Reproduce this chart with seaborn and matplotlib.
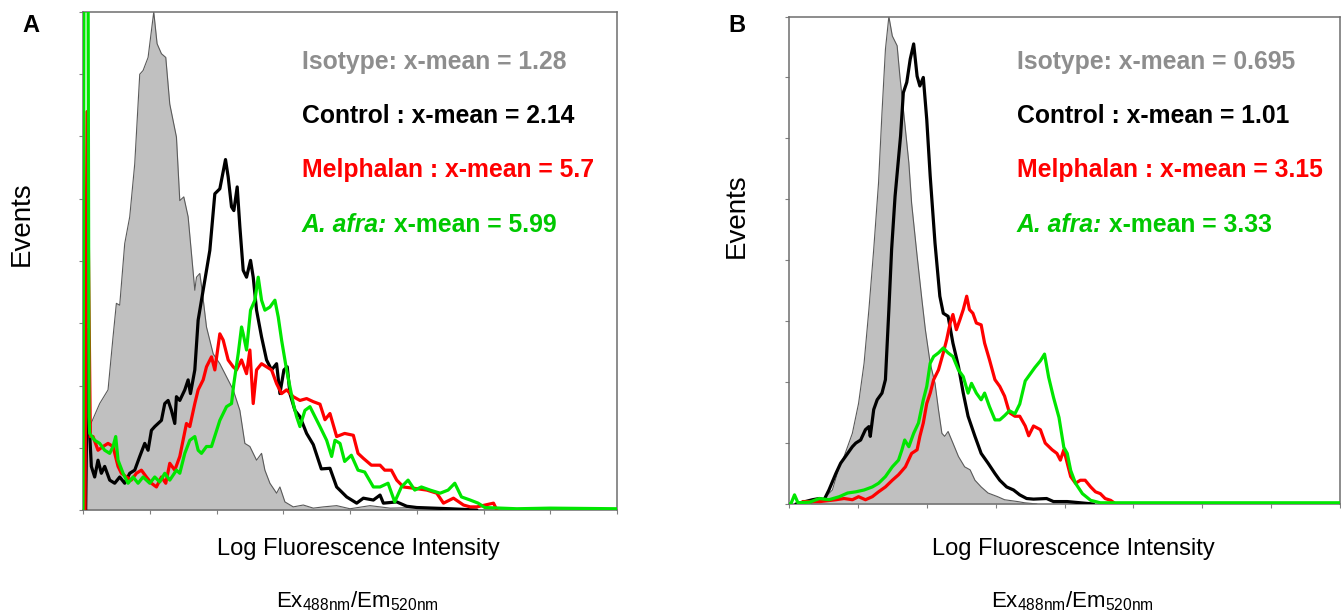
import numpy as np
import pandas as pd
import matplotlib
matplotlib.use("Agg")
import matplotlib.pyplot as plt
import seaborn as sns

# ---------------- DATA (x = log fluorescence, tick units 0..8; y = events, tick units 0..8) -------------
# Panel A
a_iso_x = [0.02, 0.05, 0.10, 0.25, 0.375, 0.45, 0.50, 0.55, 0.625, 0.70, 0.775, 0.85, 0.90, 0.975, 1.025,
           1.06, 1.11, 1.175, 1.24, 1.30, 1.40, 1.45, 1.51, 1.575, 1.675, 1.70, 1.75, 1.79, 1.85, 1.95,
           2.05, 2.15, 2.25, 2.35, 2.425, 2.50, 2.60, 2.675, 2.725, 2.80, 2.90, 2.95, 3.025, 3.15, 3.30,
           3.45, 3.60, 3.80, 4.00, 4.30, 4.60, 5.00, 5.40, 8.00]
a_iso_y = [0.0, 1.10, 1.34, 1.71, 1.93, 2.78, 3.32, 3.29, 4.28, 4.71, 5.56, 7.00, 7.06, 7.27, 7.70,
           8.00, 7.49, 7.33, 7.27, 6.52, 5.99, 4.97, 5.03, 4.71, 3.53, 3.74, 3.80, 3.48, 2.94, 2.51,
           2.35, 2.14, 1.93, 1.60, 1.07, 1.02, 0.80, 0.91, 0.64, 0.43, 0.27, 0.37, 0.13, 0.05, 0.08,
           0.03, 0.05, 0.07, 0.02, 0.07, 0.03, 0.04, 0.0, 0.0]

a_ctrl_x = [0.04, 0.07, 0.10, 0.125, 0.175, 0.225, 0.275, 0.325, 0.40, 0.475, 0.55, 0.625, 0.70, 0.775,
            0.85, 0.925, 0.975, 1.025, 1.075, 1.125, 1.175, 1.225, 1.275, 1.325, 1.375, 1.40, 1.45,
            1.525, 1.575, 1.61, 1.675, 1.725, 1.80, 1.90, 1.975, 2.05, 2.135, 2.175, 2.225, 2.26, 2.31,
            2.35, 2.40, 2.45, 2.51, 2.55, 2.60, 2.675, 2.75, 2.825, 2.90, 2.95, 3.01, 3.06, 3.10, 3.175,
            3.25, 3.35, 3.45, 3.57, 3.70, 3.80, 3.95, 4.10, 4.20, 4.35, 4.45, 4.50, 4.70, 4.85, 5.00,
            5.50, 5.90]
a_ctrl_y = [0.0, 2.90, 1.23, 0.70, 0.53, 0.80, 0.59, 0.70, 0.48, 0.43, 0.53, 0.43, 0.59, 0.64,
            0.86, 1.07, 0.96, 1.28, 1.34, 1.39, 1.44, 1.71, 1.76, 1.60, 1.39, 1.82, 1.76,
            1.93, 2.09, 1.87, 2.25, 3.05, 3.53, 4.17, 5.08, 5.16, 5.63, 5.35, 4.87, 4.81, 5.19,
            4.55, 3.85, 3.74, 4.01, 3.74, 3.21, 2.78, 2.41, 2.25, 2.35, 1.87, 2.25, 2.30, 1.87, 1.60,
            1.50, 1.23, 1.05, 0.66, 0.67, 0.37, 0.21, 0.11, 0.19, 0.16, 0.24, 0.11, 0.13, 0.06, 0.04,
            0.02, 0.0]

a_mel_x = [0.03, 0.06, 0.11, 0.15, 0.225, 0.30, 0.375, 0.45, 0.525, 0.575, 0.65, 0.725, 0.80, 0.875,
           0.95, 1.025, 1.10, 1.175, 1.24, 1.30, 1.375, 1.45, 1.55, 1.60, 1.675, 1.725, 1.80, 1.85,
           1.925, 1.975, 2.05, 2.10, 2.175, 2.25, 2.30, 2.375, 2.45, 2.50, 2.55, 2.60, 2.675, 2.75,
           2.825, 2.90, 2.975, 3.05, 3.15, 3.25, 3.35, 3.45, 3.55, 3.625, 3.70, 3.80, 3.92, 4.05,
           4.12, 4.20, 4.32, 4.45, 4.52, 4.62, 4.70, 4.80, 4.95, 5.15, 5.30, 5.40, 5.55, 5.70,
           5.80, 5.90, 6.15, 6.20]
a_mel_y = [0.0, 6.40, 1.18, 1.18, 0.96, 1.02, 1.07, 1.02, 0.70, 0.59, 0.53, 0.48, 0.59, 0.64,
           0.53, 0.43, 0.37, 0.53, 0.43, 0.75, 0.64, 0.86, 1.39, 1.34, 1.71, 1.93, 2.09, 2.30,
           2.46, 2.25, 2.83, 2.73, 2.41, 2.30, 2.25, 2.41, 2.19, 2.57, 1.71, 2.25, 2.35, 2.30,
           2.25, 2.03, 1.87, 1.93, 1.82, 1.76, 1.79, 1.74, 1.70, 1.45, 1.55, 1.18, 1.23, 1.20,
           0.91, 0.83, 0.72, 0.72, 0.64, 0.64, 0.48, 0.37, 0.35, 0.32, 0.27, 0.11, 0.19, 0.08,
           0.05, 0.05, 0.11, 0.0]

a_afra_x = [0.0, 0.015, 0.075, 0.09, 0.10, 0.175, 0.25, 0.325, 0.40, 0.45, 0.49, 0.525, 0.60, 0.675,
            0.75, 0.825, 0.90, 1.00, 1.075, 1.15, 1.225, 1.30, 1.40, 1.45, 1.525, 1.60, 1.675, 1.725,
            1.775, 1.85, 1.925, 2.05, 2.15, 2.225, 2.26, 2.325, 2.375, 2.40, 2.45, 2.51, 2.575, 2.625,
            2.675, 2.725, 2.80, 2.875, 2.925, 2.975, 3.05, 3.10, 3.15, 3.20, 3.25, 3.325, 3.40, 3.475,
            3.55, 3.65, 3.725, 3.775, 3.85, 3.92, 4.02, 4.12, 4.22, 4.35, 4.45, 4.57, 4.67, 4.77,
            4.87, 4.97, 5.07, 5.20, 5.35, 5.47, 5.57, 5.67, 5.80, 5.92, 6.02, 6.50, 7.00, 8.00]
a_afra_y = [0.0, 9.0, 9.0, 1.5, 1.23, 1.12, 1.07, 0.96, 0.91, 1.02, 1.18, 0.80, 0.59, 0.43,
            0.53, 0.43, 0.53, 0.43, 0.53, 0.45, 0.59, 0.48, 0.64, 0.59, 0.91, 1.12, 1.18, 0.96,
            0.91, 1.02, 1.02, 1.44, 1.66, 1.71, 2.03, 2.51, 2.94, 2.83, 2.57, 3.21, 3.37, 3.74,
            3.37, 3.21, 3.26, 3.37, 3.10, 2.73, 2.25, 1.98, 1.71, 1.50, 1.34, 1.60, 1.66, 1.50,
            1.34, 1.12, 0.86, 1.12, 1.07, 0.78, 0.88, 0.64, 0.61, 0.37, 0.37, 0.43, 0.13, 0.37,
            0.48, 0.32, 0.37, 0.32, 0.27, 0.32, 0.43, 0.21, 0.16, 0.11, 0.04, 0.02, 0.03, 0.02]

# Panel B
b_iso_x = [0.30, 0.49, 0.63, 0.73, 0.80, 0.92, 1.01, 1.09, 1.16, 1.23, 1.30, 1.35, 1.40, 1.45, 1.50,
           1.57, 1.61, 1.66, 1.74, 1.78, 1.86, 1.93, 1.98, 2.05, 2.12, 2.17, 2.22, 2.26, 2.31, 2.38,
           2.46, 2.55, 2.63, 2.70, 2.79, 2.89, 3.03, 3.13, 3.32, 3.42, 3.60]
b_iso_y = [0.0, 0.07, 0.23, 0.61, 0.78, 1.16, 1.65, 2.31, 3.19, 4.18, 5.27, 6.42, 7.46, 8.00, 7.68,
           7.52, 7.02, 6.48, 5.60, 4.94, 4.07, 3.35, 2.86, 2.31, 1.98, 1.55, 1.16, 1.11, 1.19, 1.00,
           0.78, 0.61, 0.56, 0.39, 0.28, 0.18, 0.12, 0.07, 0.04, 0.02, 0.0]

b_ctrl_x = [0.10, 0.34, 0.44, 0.51, 0.58, 0.68, 0.75, 0.82, 0.92, 0.97, 1.04, 1.11, 1.16, 1.18, 1.23,
            1.28, 1.35, 1.40, 1.45, 1.49, 1.54, 1.62, 1.66, 1.71, 1.76, 1.81, 1.86, 1.90, 1.95, 2.00,
            2.05, 2.12, 2.19, 2.24, 2.31, 2.38, 2.46, 2.53, 2.60, 2.70, 2.79, 2.89, 2.99, 3.06, 3.16,
            3.26, 3.35, 3.45, 3.55, 3.74, 3.84, 4.04, 4.42]
b_ctrl_y = [0.0, 0.07, 0.09, 0.07, 0.23, 0.50, 0.67, 0.78, 0.94, 1.00, 1.05, 1.22, 1.27, 1.11, 1.55,
            1.71, 1.82, 2.04, 3.19, 4.18, 5.05, 6.04, 6.75, 6.92, 7.30, 7.55, 7.02, 6.86, 7.00, 6.31,
            5.38, 4.28, 3.41, 3.13, 3.08, 2.64, 2.26, 1.82, 1.44, 1.11, 0.83, 0.67, 0.50, 0.39, 0.28,
            0.23, 0.15, 0.09, 0.08, 0.09, 0.04, 0.04, 0.0]

b_mel_x = [0.20, 0.45, 0.68, 0.80, 0.92, 1.01, 1.11, 1.21, 1.30, 1.40, 1.50, 1.59, 1.69, 1.78, 1.86,
           1.90, 1.95, 2.00, 2.05, 2.10, 2.17, 2.24, 2.29, 2.34, 2.38, 2.43, 2.48, 2.53, 2.58, 2.62,
           2.67, 2.72, 2.79, 2.84, 2.91, 2.99, 3.06, 3.13, 3.20, 3.28, 3.35, 3.43, 3.48, 3.55, 3.65,
           3.72, 3.82, 3.89, 3.94, 3.99, 4.04, 4.09, 4.16, 4.23, 4.30, 4.38, 4.45, 4.52, 4.59, 4.67,
           4.72]
b_mel_y = [0.04, 0.04, 0.07, 0.09, 0.07, 0.12, 0.07, 0.12, 0.20, 0.28, 0.39, 0.48, 0.61, 0.83, 0.89,
           1.11, 1.33, 1.65, 1.82, 2.04, 2.20, 2.48, 2.70, 2.97, 3.11, 2.86, 3.02, 3.19, 3.41, 3.19,
           3.13, 2.97, 2.94, 2.64, 2.37, 2.04, 1.93, 1.77, 1.50, 1.44, 1.44, 1.28, 1.12, 1.28, 1.22,
           1.00, 0.89, 0.83, 0.72, 0.89, 0.67, 0.45, 0.34, 0.39, 0.39, 0.28, 0.20, 0.17, 0.09, 0.06,
           0.02]

b_afra_x = [0.0, 0.03, 0.08, 0.13, 0.30, 0.44, 0.58, 0.73, 0.85, 0.97, 1.09, 1.21, 1.30, 1.40, 1.50,
            1.59, 1.64, 1.68, 1.74, 1.81, 1.88, 1.95, 2.00, 2.05, 2.10, 2.17, 2.24, 2.31, 2.38, 2.46,
            2.53, 2.60, 2.65, 2.72, 2.79, 2.84, 2.91, 2.99, 3.06, 3.13, 3.20, 3.28, 3.35, 3.43, 3.50,
            3.57, 3.65, 3.71, 3.77, 3.84, 3.92, 3.99, 4.04, 4.09, 4.16, 4.26, 4.38, 4.52, 8.00]
b_afra_y = [0.0, 0.01, 0.15, 0.02, 0.03, 0.09, 0.07, 0.12, 0.18, 0.20, 0.23, 0.28, 0.34, 0.45, 0.61,
            0.72, 0.89, 1.05, 0.94, 1.16, 1.33, 1.71, 1.93, 2.31, 2.42, 2.48, 2.56, 2.48, 2.42, 2.20,
            2.09, 1.82, 1.98, 1.82, 1.71, 1.82, 1.60, 1.38, 1.38, 1.45, 1.53, 1.48, 1.64, 2.02, 2.13,
            2.24, 2.35, 2.46, 2.08, 1.75, 1.42, 0.93, 0.83, 0.55, 0.34, 0.17, 0.06, 0.02, 0.02]

panel_letters = ["A", "B"]
series_names = ["Isotype", "Control", "Melphalan", "A. afra"]
xmeans_a = ["1.28", "2.14", "5.7", "5.99"]
xmeans_b = ["0.695", "1.01", "3.15", "3.33"]
axis_ticks = [0, 1, 2, 3, 4, 5, 6, 7, 8]

# ---------------- STYLE ----------------
sns.set_style("ticks")
plt.rcParams["font.family"] = ["Liberation Sans", "DejaVu Sans"]
plt.rcParams["text.color"] = "black"

W, H = 1341, 615
fig = plt.figure(figsize=(W / 100, H / 100), dpi=100)

def fx(px):
    return px / W

def fy(py):
    return 1 - py / H

axA = fig.add_axes([fx(83), fy(510), fx(617 - 83), (510 - 12) / H])
axB = fig.add_axes([fx(789), fy(504), fx(1340 - 789), (504 - 16.5) / H])

C_ISO_FILL = "#c0c0c0"
C_ISO_LINE = "#5a5a5a"
C_CTRL = "#000000"
C_MEL = "#ff0000"
C_AFRA = "#00e600"
C_ISO_TXT = "#8e8e8e"
C_AFRA_TXT = "#00c800"

def draw_panel(ax, iso, ctrl, mel, afra):
    ix, iy = iso
    ax.fill_between(ix, iy, 0, color=C_ISO_FILL, lw=0, zorder=1)
    sns.lineplot(x=ix, y=iy, ax=ax, color=C_ISO_LINE, lw=0.8, sort=False, estimator=None, zorder=2)
    for (sx, sy), c, z in [(ctrl, C_CTRL, 3), (mel, C_MEL, 4), (afra, C_AFRA, 5)]:
        sns.lineplot(x=sx, y=sy, ax=ax, color=c, lw=2.3, sort=False, estimator=None, zorder=z)
    ax.set_xlim(0, 8)
    ax.set_ylim(0, 8)
    ax.set_xticks(axis_ticks)
    ax.set_yticks(axis_ticks)
    ax.tick_params(length=3, width=0.8, color="#808080", labelbottom=False, labelleft=False,
                   direction="out")
    ax.set_xlabel("")
    ax.set_ylabel("")
    for s in ax.spines.values():
        s.set_visible(True)
        s.set_color("#6e6e6e")
        s.set_linewidth(1.1)

draw_panel(axA, (a_iso_x, a_iso_y), (a_ctrl_x, a_ctrl_y), (a_mel_x, a_mel_y), (a_afra_x, a_afra_y))
draw_panel(axB, (b_iso_x, b_iso_y), (b_ctrl_x, b_ctrl_y), (b_mel_x, b_mel_y), (b_afra_x, b_afra_y))

ANN = 17.8

def afra_suffix(t, means):
    fig.canvas.draw()
    bb = t.get_window_extent()
    x0 = bb.x1 / W
    fig.text(x0, t.get_position()[1], f" x-mean = {means[3]}", color=C_AFRA_TXT, fontsize=ANN,
             fontweight="bold", va="baseline")

def annotate(text_left, means):
    baselines = [69, 123, 177, 232]
    fig.text(fx(text_left), fy(baselines[0]), f"{series_names[0]}: x-mean = {means[0]}",
             color=C_ISO_TXT, fontsize=ANN, fontweight="bold", va="baseline")
    fig.text(fx(text_left), fy(baselines[1]), f"{series_names[1]} : x-mean = {means[1]}",
             color=C_CTRL, fontsize=ANN, fontweight="bold", va="baseline")
    fig.text(fx(text_left), fy(baselines[2]), f"{series_names[2]} : x-mean = {means[2]}",
             color=C_MEL, fontsize=ANN, fontweight="bold", va="baseline")
    t = fig.text(fx(text_left), fy(baselines[3]), f"{series_names[3]}:",
                 color=C_AFRA_TXT, fontsize=ANN, fontweight="bold", fontstyle="italic", va="baseline")
    afra_suffix(t, means)

annotate(302, xmeans_a)
annotate(1017, xmeans_b)

# panel letters
fig.text(fx(31), fy(26), panel_letters[0], fontsize=17, fontweight="bold", ha="center", va="center")
fig.text(fx(737), fy(26), panel_letters[1], fontsize=17, fontweight="bold", ha="center", va="center")

# y labels
fig.text(fx(22), fy(224), "Events", fontsize=20, rotation=90, ha="center", va="center")
fig.text(fx(737), fy(216), "Events", fontsize=20, rotation=90, ha="center", va="center")

# x labels
for cx in (358, 1073):
    fig.text(fx(cx), fy(555), "Log Fluorescence Intensity", fontsize=17, ha="center", va="baseline")
    fig.text(fx(cx - 1), fy(607), r"Ex$_{\mathregular{488nm}}$/Em$_{\mathregular{520nm}}$",
             fontsize=16, ha="center", va="baseline")

fig.savefig("out.png", dpi=100)
